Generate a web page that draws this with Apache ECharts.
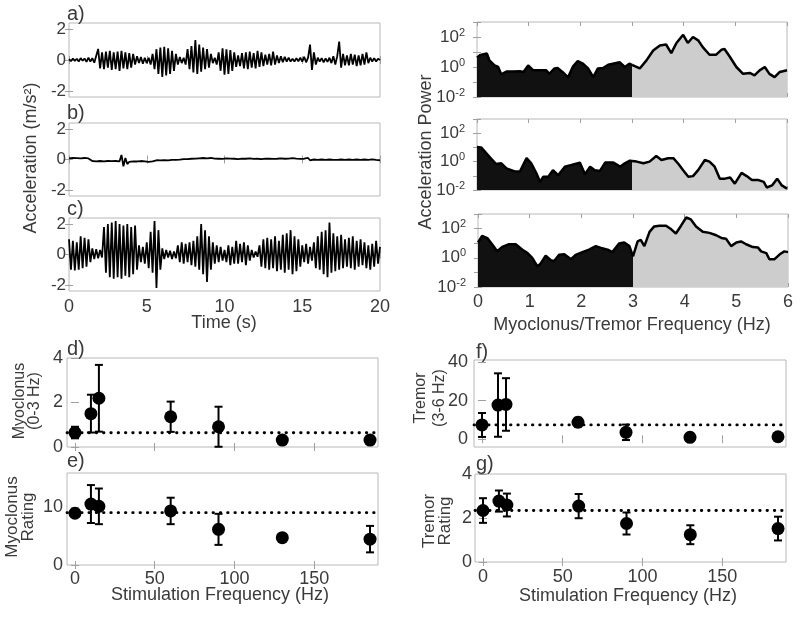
<!DOCTYPE html>
<html><head><meta charset="utf-8">
<script src="https://cdn.jsdelivr.net/npm/echarts@6/dist/echarts.min.js"></script>
<style>html,body{margin:0;padding:0;background:#fff}#c{width:800px;height:617px}</style>
</head><body><div id="c"></div>
<script>
// ---------- time-domain acceleration traces (m/s^2), sampled every 0.125 s from 0 to 20 s ----------
const sampleStep = 0.125;
const accA = [0.05,-0.08,0.1,-0.06,0.08,-0.1,0.12,-0.05,
0.1,-0.12,0.15,-0.1,0.12,-0.18,-0.3,0.72,
-0.55,0.5,-0.6,0.55,-0.5,0.6,-0.65,0.5,
-0.6,0.55,-0.7,0.6,-0.55,0.5,-0.6,0.45,
-0.5,0.4,-0.3,0.25,-0.2,0.2,-0.25,0.15,
-0.2,0.15,-0.3,0.4,-0.6,0.7,-0.9,0.8,
-1.1,0.85,-1.0,0.75,-0.9,0.6,-0.7,0.4,
-0.3,0.2,-0.2,0.15,-0.3,0.7,-0.6,0.9,
-0.8,1.3,-0.9,1.0,-0.75,0.8,-0.6,0.7,
-0.5,0.4,-0.2,0.15,-0.3,0.5,-0.7,0.75,
-0.95,0.7,-0.9,0.65,-0.7,0.5,-0.45,0.3,
-0.4,0.45,-0.55,0.5,-0.6,0.55,-0.5,0.45,
-0.55,0.6,-0.45,0.5,-0.4,0.35,-0.3,0.4,
-0.35,0.55,-0.3,0.3,-0.2,0.25,-0.15,0.2,
-0.1,0.15,-0.1,0.08,-0.1,0.12,-0.08,0.15,
-0.1,0.2,-0.15,0.15,1.0,-0.65,0.5,-0.3,
0.15,-0.1,0.12,-0.15,0.1,-0.12,0.15,-0.2,
0.25,-0.3,0.25,1.2,-0.5,0.4,-0.35,0.3,
-0.35,0.4,-0.3,0.35,-0.4,0.3,-0.35,0.4,
-0.3,0.5,-0.2,0.15,-0.1,0.12,-0.1,0.08,0.0];
const accB = [0.08,0.04,0.1,0.05,0.09,0.03,0.08,0.05,
0.1,0.04,0.07,-0.05,-0.1,-0.08,-0.12,-0.07,
-0.1,-0.06,-0.12,-0.08,-0.1,-0.05,-0.11,-0.07,
-0.1,-0.05,-0.12,0.3,-0.45,0.1,-0.3,-0.15,
-0.2,-0.12,-0.18,-0.13,-0.2,-0.1,-0.17,-0.12,
-0.2,-0.15,-0.22,-0.12,-0.18,-0.05,-0.1,-0.06,
-0.1,-0.04,-0.12,-0.06,-0.1,-0.03,-0.08,-0.02,
-0.08,-0.01,-0.06,0.02,-0.05,0.03,-0.04,0.05,
-0.02,0.06,0.0,0.08,0.02,0.1,0.03,0.08,
0.05,0.1,0.02,0.06,-0.02,0.05,-0.03,0.04,
0.02,0.07,-0.02,0.06,0.0,0.05,-0.04,0.03,
0.0,0.06,-0.03,0.05,-0.01,0.07,0.0,0.04,
-0.03,0.05,-0.05,0.03,0.0,0.06,-0.02,0.05,
0.0,0.04,-0.04,0.05,0.02,0.08,0.0,0.05,
-0.02,0.06,0.0,0.09,0.02,0.06,-0.02,0.04,
0.0,0.05,-0.04,0.1,-0.05,0.06,0.0,0.05,
-0.02,0.06,0.0,0.05,-0.03,0.04,0.0,0.06,
-0.02,0.05,-0.03,0.04,0.0,0.06,-0.02,0.03,
0.0,0.05,-0.03,0.06,0.0,0.07,-0.02,0.04,
0.0,0.06,-0.02,0.05,0.01,0.06,-0.03,0.02,-0.05];
const accC = [1.0,-1.0,0.9,-1.05,0.8,-1.0,1.2,-0.9,
1.1,-0.8,1.0,-0.5,0.4,-0.3,0.35,-0.25,
0.3,-0.2,1.8,-1.2,2.0,-1.5,2.1,-1.6,
2.2,-1.5,2.0,-1.6,1.9,-1.4,2.0,-1.5,
1.8,-1.3,1.9,-1.0,0.6,-0.5,0.5,-0.6,
0.8,-0.9,1.5,-1.2,2.2,-2.2,1.6,-1.0,
0.4,-0.3,0.3,-0.2,0.25,-0.3,0.2,-0.25,
0.6,-0.5,0.8,-0.6,0.7,-0.5,0.8,-0.7,
0.9,-0.8,1.2,-1.0,2.0,-1.3,1.6,-1.8,
1.2,-1.0,0.8,-0.6,0.6,-0.5,0.5,-0.4,
0.3,-0.5,0.6,-0.7,0.5,-0.6,0.9,-0.6,
0.7,-0.5,0.8,-0.7,0.6,-0.4,0.3,-0.2,
0.2,-0.15,0.6,-0.8,1.0,-0.9,1.1,-1.0,
1.0,-0.9,1.2,-1.1,0.9,-1.0,1.3,-1.2,
1.4,-1.0,1.6,-1.3,1.2,-1.1,1.0,-0.8,
0.6,-0.5,0.7,-0.6,0.5,-0.4,0.8,-0.9,
1.2,-1.0,1.5,-1.3,1.6,-1.5,2.1,-1.2,
1.4,-1.1,1.2,-1.0,1.3,-0.9,1.0,-0.8,
1.1,-0.9,1.2,-1.0,0.9,-0.8,1.0,-0.7,
0.8,-0.9,0.6,-1.0,0.7,-0.8,0.9,-0.6,0.5];

// ---------- acceleration power spectra ----------
const specFreq1 = [0,0.05,0.19,0.24,0.34,0.41,0.47,0.57,0.7,0.83,0.9,0.99,1.08,1.2,1.34,1.4,1.5,1.56,1.66,1.76,1.86,1.95,2.05,2.15,2.25,2.34,2.44,2.54,2.63,2.76,2.86,2.95,3.0,3.15,3.28,3.41,3.54,3.66,3.76,3.86,3.99,4.08,4.18,4.28,4.37,4.5,4.63,4.73,4.79,4.89,5.02,5.15,5.28,5.37,5.47,5.57,5.66,5.76,5.86,6.0];
const specPow1  = [4.2,6.0,8.0,2.8,1.3,1.0,0.32,0.5,0.5,0.52,0.47,1.26,0.63,0.6,0.6,0.35,0.8,0.85,0.45,0.2,1.1,2.5,1.66,0.8,0.21,0.8,0.85,1.4,1.66,2.1,1.0,1.66,1.4,0.8,2.75,12.6,27.5,31.6,8.5,40,141,40,100,60,21,6.6,6.6,14,15.8,5.0,1.0,0.35,0.4,0.28,0.6,1.0,0.35,0.21,0.47,0.6];
const specFreq2 = [0,0.08,0.25,0.37,0.47,0.57,0.73,0.83,0.96,1.05,1.15,1.22,1.28,1.38,1.47,1.57,1.7,1.83,1.99,2.09,2.19,2.28,2.38,2.48,2.64,2.77,2.86,2.96,3.0,3.09,3.22,3.34,3.47,3.57,3.7,3.8,3.9,3.99,4.09,4.18,4.28,4.41,4.5,4.6,4.7,4.8,4.9,4.99,5.12,5.22,5.32,5.45,5.55,5.61,5.71,5.81,5.9,6.0];
const specPow2  = [10.5,10,2.0,0.68,0.76,0.33,0.2,0.2,1.74,0.76,0.15,0.037,0.085,0.085,0.25,0.11,0.44,0.58,0.85,0.13,0.44,0.25,0.22,0.85,0.85,0.44,0.76,1.17,1.12,1.0,0.76,1.0,2.5,1.3,1.74,1.74,0.68,0.25,0.085,0.095,0.25,1.3,1.0,0.44,0.063,0.063,0.076,0.028,0.16,0.095,0.05,0.05,0.037,0.015,0.021,0.063,0.021,0.0126];
const specFreq3 = [0,0.08,0.18,0.28,0.37,0.47,0.6,0.73,0.86,0.96,1.05,1.15,1.21,1.31,1.41,1.47,1.57,1.67,1.8,1.89,2.02,2.15,2.28,2.38,2.51,2.6,2.73,2.83,2.93,3.0,3.09,3.15,3.22,3.32,3.41,3.51,3.64,3.74,3.83,3.93,4.03,4.12,4.22,4.35,4.48,4.61,4.71,4.8,4.9,5.0,5.09,5.19,5.32,5.42,5.48,5.58,5.64,5.74,5.84,5.93,6.0];
const specPow3  = [11.2,31.6,22.4,7.9,2.8,5.6,8.5,8.5,3.6,2.1,1.0,0.26,0.39,1.4,0.68,0.58,1.6,1.74,0.8,1.6,2.45,3.6,6.3,4.8,3.6,2.45,9.5,11.2,6.3,1.26,13.2,16.6,6.3,60,141,158,158,89,46,158,575,427,141,60,51,35,23,20,6.3,11.2,13.2,8.5,5.4,5.0,2.75,2.1,0.8,0.8,1.74,2.75,2.45];
const bandSplitHz = 3;

// ---------- stimulation-frequency summaries ----------
const stimFreq = [0,10,15,60,90,130,185];
const myoPower = [0.65,1.5,2.19,1.36,0.91,0.31,0.31];
const myoPowerErr = [0.26,0.85,1.5,0.68,0.9,0.06,0.06];
const myoPowerBaseline = 0.64;
const myoRating = [9.0,10.6,10.2,9.4,6.2,4.76,4.5];
const myoRatingErr = [0.3,3.3,3.1,2.3,2.7,0.4,2.3];
const myoRatingBaseline = 9.1;
const tremorPower = [7.4,17.7,18,8.8,3.6,1.0,1.3];
const tremorPowerErr = [6.2,16.4,13.6,2.3,4.0,0.4,0.4];
const tremorPowerBaseline = 7.4;
const tremorRating = [2.34,2.77,2.59,2.54,1.75,1.24,1.52];
const tremorRatingErr = [0.56,0.48,0.52,0.55,0.5,0.43,0.54];
const tremorRatingBaseline = 2.34;

// ---------- tick labels ----------
const timeTicks = [0,5,10,15,20];
const accTicks = [-2,0,2];
const specXTicks = [0,1,2,3,4,5,6];
const stimTicks = [0,50,100,150];
const myoPowerTicks = [0,2,4];
const myoRatingTicks = [0,10];
const tremorPowerTicks = [0,20,40];
const tremorRatingTicks = [0,2,4];

const FONT = 'Liberation Sans, Arial, Helvetica, sans-serif';
const TXT = '#3a3a3a';
const BOX = '#b8b8b8';
const TICK = '#a0a0a0';

const chart = echarts.init(document.getElementById('c'), null, {renderer:'canvas'});

const grids = [
 {left:69, top:23, width:311, height:74},
 {left:69, top:123, width:311, height:73},
 {left:69, top:218, width:311, height:73},
 {left:477, top:22, width:310, height:75},
 {left:477, top:119, width:310, height:71},
 {left:478, top:214, width:310, height:73},
 {left:67, top:358, width:311, height:89},
 {left:67, top:473, width:311, height:92},
 {left:474, top:360, width:312, height:87},
 {left:475, top:474, width:311, height:88}
].map(g => Object.assign({show:true, borderColor:BOX, borderWidth:1, backgroundColor:'transparent', containLabel:false}, g));

function valAxis(gi, opt, pos){
  return {
    type:'value', gridIndex:gi, min:opt.min, max:opt.max, position: pos,
    axisLine:{show:false},
    splitLine:{show:false},
    axisTick:{show:true, inside:true, length:4, lineStyle:{color:TICK}, customValues: opt.ticks},
    axisLabel:{show: opt.labels !== false && !opt.mirror, customValues: opt.ticks, color:TXT, fontFamily:FONT, fontSize: opt.fs || 18, margin: opt.margin || 6, showMinLabel:true, showMaxLabel:true}
  };
}

const xSpecs = [
  {min:0,max:20,ticks:timeTicks,labels:false},
  {min:0,max:20,ticks:timeTicks,labels:false},
  {min:0,max:20,ticks:timeTicks,margin:7},
  {min:0,max:6,ticks:specXTicks,labels:false},
  {min:0,max:6,ticks:specXTicks,labels:false},
  {min:0,max:6,ticks:specXTicks,margin:6},
  {min:-5,max:190,ticks:stimTicks,labels:false},
  {min:-5,max:190,ticks:stimTicks,margin:5},
  {min:-5,max:190,ticks:stimTicks,labels:false},
  {min:-5,max:190,ticks:stimTicks,margin:6}
];
const xAxes = xSpecs.map((s,i) => valAxis(i, s, 'bottom'))
  .concat(xSpecs.map((s,i) => valAxis(i, Object.assign({}, s, {mirror:true}), 'top')));

function logAxis(gi, mirror){
  return {
    type:'log', logBase:10, gridIndex:gi, min:0.01, max:1000, position: mirror ? 'right' : 'left',
    axisLine:{show:false}, splitLine:{show:false}, minorTick:{show:false},
    axisTick:{show:true, inside:true, length:4, lineStyle:{color:TICK},
      interval: (idx, v) => Math.round(Math.log10(v)) % 2 === 0},
    axisLabel:{
      show: !mirror,
      color:TXT, fontFamily:FONT, fontSize:17, margin:12, showMinLabel:true, showMaxLabel:true,
      formatter: v => { const e = Math.round(Math.log10(v)); return (e % 2 === 0 && e < 3) ? '10{s|' + e + '}' : ''; },
      rich:{ s:{fontSize:11, fontFamily:FONT, color:TXT, verticalAlign:'bottom', padding:[0,0,9,0]} }
    }
  };
}

const ySpecs = [
  {min:-2.4,max:2.4,ticks:accTicks,margin:3,fs:17},
  {min:-2.4,max:2.4,ticks:accTicks,margin:3,fs:17},
  {min:-2.4,max:2.4,ticks:accTicks,margin:3,fs:17},
  null, null, null,
  {min:0,max:4,ticks:myoPowerTicks,margin:4},
  {min:0,max:16,ticks:myoRatingTicks,margin:4},
  {min:-4,max:41,ticks:tremorPowerTicks,margin:6},
  {min:0,max:4,ticks:tremorRatingTicks,margin:3}
];
const yAxes = ySpecs.map((s,i) => s ? valAxis(i, s, 'left') : logAxis(i, false))
  .concat(ySpecs.map((s,i) => s ? valAxis(i, Object.assign({}, s, {mirror:true}), 'right') : logAxis(i, true)));

const series = [];
[accA, accB, accC].forEach((arr, i) => {
  series.push({type:'line', xAxisIndex:i, yAxisIndex:i, showSymbol:false, symbol:'none', animation:false,
    lineStyle:{color:'#000', width:1.8}, data: arr.map((v,k) => [k*sampleStep, v])});
});
[[specFreq1,specPow1],[specFreq2,specPow2],[specFreq3,specPow3]].forEach((p, i) => {
  const pts = p[0].map((f,k) => [f, p[1][k]]);
  const low = pts.filter(d => d[0] <= bandSplitHz);
  const high = pts.filter(d => d[0] >= bandSplitHz);
  series.push({type:'line', xAxisIndex:3+i, yAxisIndex:3+i, symbol:'none', animation:false,
    lineStyle:{color:'#000', width:2.5}, areaStyle:{color:'#111', opacity:1, origin:'start'}, data: low, z:2});
  series.push({type:'line', xAxisIndex:3+i, yAxisIndex:3+i, symbol:'none', animation:false,
    lineStyle:{color:'#000', width:2.5}, areaStyle:{color:'#cdcdcd', opacity:1, origin:'start'}, data: high, z:2});
});

function errRender(params, api){
  const x = api.value(0), y = api.value(1), e = api.value(2);
  const t = api.coord([x, y+e]), b = api.coord([x, y-e]);
  const hw = 4;
  const st = {stroke:'#000', lineWidth:2};
  return {type:'group', children:[
    {type:'line', shape:{x1:t[0],y1:t[1],x2:b[0],y2:b[1]}, style:st},
    {type:'line', shape:{x1:t[0]-hw,y1:t[1],x2:t[0]+hw,y2:t[1]}, style:st},
    {type:'line', shape:{x1:b[0]-hw,y1:b[1],x2:b[0]+hw,y2:b[1]}, style:st}
  ]};
}
[[myoPower,myoPowerErr,myoPowerBaseline],[myoRating,myoRatingErr,myoRatingBaseline],
 [tremorPower,tremorPowerErr,tremorPowerBaseline],[tremorRating,tremorRatingErr,tremorRatingBaseline]].forEach((s, i) => {
  const ai = 6 + i;
  series.push({type:'line', xAxisIndex:ai, yAxisIndex:ai, symbol:'none', animation:false, silent:true,
    lineStyle:{color:'#000', width:2.8, type:[0.5,6.8], cap:'round'}, data:[[-5, s[2]],[190, s[2]]], z:1});
  series.push({type:'custom', xAxisIndex:ai, yAxisIndex:ai, renderItem: errRender, animation:false,
    data: stimFreq.map((f,k) => [f, s[0][k], s[1][k]]), z:3});
  series.push({type:'scatter', xAxisIndex:ai, yAxisIndex:ai, symbol:'circle', symbolSize:13, animation:false,
    itemStyle:{color:'#000', opacity:1}, data: stimFreq.map((f,k) => [f, s[0][k]]), z:4});
});

function txt(text, x, y, fs, opts){
  return Object.assign({type:'text', x:x, y:y, style:{text:text, fill:TXT, font: fs + 'px ' + FONT,
    textAlign:(opts && opts.align) || 'left', textVerticalAlign:'middle', lineHeight:(opts && opts.lh) || fs}}, 
    (opts && opts.rot) ? {rotation: Math.PI/2} : {});
}
const graphics = [
  txt('a)', 67, 14, 20), txt('b)', 67, 113, 20), txt('c)', 67, 209, 20),
  txt('d)', 67, 349, 20), txt('e)', 67, 461, 20), txt('f)', 476, 352, 20), txt('g)', 476, 464, 20),
  txt('Acceleration (m/s²)', 31, 158, 18, {rot:true, align:'center'}),
  txt('Acceleration Power', 426, 152, 18, {rot:true, align:'center'}),
  txt('Time (s)', 224, 323, 18, {align:'center'}),
  txt('Myoclonus/Tremor Frequency (Hz)', 632, 325, 18, {align:'center'}),
  txt('Stimulation Frequency (Hz)', 220, 595, 18, {align:'center'}),
  txt('Stimulation Frequency (Hz)', 628, 596, 18, {align:'center'}),
  txt('Myoclonus\n(0-3 Hz)', 27, 401, 16, {rot:true, align:'center', lh:15}),
  txt('Myoclonus\nRating', 20, 517, 17, {rot:true, align:'center', lh:16}),
  txt('Tremor\n(3-6 Hz)', 430, 398, 16, {rot:true, align:'center', lh:19}),
  txt('Tremor\nRating', 437, 521, 17, {rot:true, align:'center', lh:16})
];

chart.setOption({
  animation:false,
  backgroundColor:'#fff',
  textStyle:{fontFamily:FONT},
  grid: grids, xAxis: xAxes, yAxis: yAxes, series: series, graphic: graphics
});
</script></body></html>
